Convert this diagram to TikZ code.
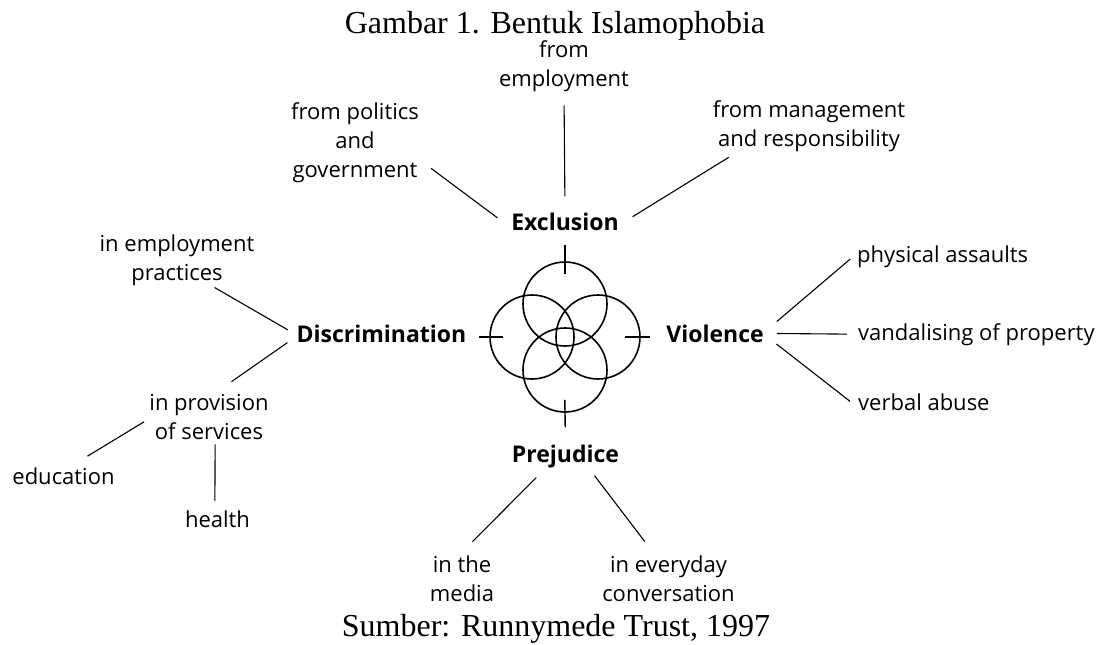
\documentclass[tikz,border=0pt]{standalone}
\usepackage{fontspec}
\setmainfont{Liberation Serif}
\newfontfamily\diagfont{Open Sans}
\usepackage{tikz}
\usetikzlibrary{positioning}

\begin{document}
\begin{tikzpicture}[x=1pt, y=-1pt,
  leaf/.style={font=\diagfont\fontsize{22}{29}\selectfont, align=center, inner sep=0pt, anchor=base},
  cat/.style={font=\diagfont\bfseries\fontsize{23}{29}\selectfont, inner sep=0pt, anchor=base},
  caption/.style={font=\fontsize{32}{36}\selectfont, inner sep=0pt, anchor=base},
  ring/.style={draw, circle, line width=1.6pt, minimum size=84pt, inner sep=0pt},
  link/.style={line width=1.1pt},
  tickline/.style={line width=1.4pt}]

\useasboundingbox (0,0) rectangle (1104,645);

\node [caption] (title) at (555,33) {Gambar 1. Bentuk Islamophobia};
\node [caption] (source) at (556,636) {Sumber: Runnymede Trust, 1997};

% the four rings
\foreach \n/\x/\y in {ctop/565/304, cleft/532/337, cright/598/337, cbot/565/370}
  \node [ring] (\n) at (\x,\y) {};

% forms
\node [cat] (excl) at (565,230) {Exclusion};
\node [cat] (disc) at (381.5,342) {Discrimination};
\node [cat] (viol) at (715,342) {Violence};
\node [cat] (prej) at (565.5,462) {Prejudice};

% examples (multi-line ones sit on their last line)
\node [leaf] (femp) at (564,86) {from\\employment};
\node [leaf] (polgov) at (355,177) {from politics\\and\\government};
\node [leaf] (mgmt) at (809,146) {from management\\and responsibility};
\node [leaf] (emppr) at (177,280) {in employment\\practices};
\node [leaf] (prov) at (209,439) {in provision\\of services};
\node [leaf] (educ) at (63.5,484) {education};
\node [leaf] (health) at (217.5,527) {health};
\node [leaf, anchor=base west] (phys) at (857,262) {physical assaults};
\node [leaf, anchor=base west] (vand) at (858,340) {vandalising of property};
\node [leaf, anchor=base west] (verbal) at (858,410) {verbal abuse};
\node [leaf] (media) at (462,601) {in the\\media};
\node [leaf] (conv) at (668.5,601) {in everyday\\conversation};

% ticks into the rings
\draw [tickline, shorten <=15pt, shorten >=-13pt] (excl.south) -- (ctop.north);
\draw [tickline, shorten <=12pt, shorten >=-14pt] (disc.east |- cleft.west) -- (cleft.west);
\draw [tickline, shorten <=16pt, shorten >=-16pt] (viol.west |- cright.east) -- (cright.east);
\draw [tickline, shorten <=17pt, shorten >=-13pt] (prej.north) -- (cbot.south);

% connectors
\draw [link, shorten <=14pt, shorten >=16pt] (femp.south) -- (excl.north);
\draw [link, shorten <=15pt, shorten >=17pt] (polgov.-15) -- (excl.187);
\draw [link, shorten <=11pt, shorten >=16pt] (mgmt.200) -- (excl.-4);
\draw [link, shorten <=4pt, shorten >=10pt] (emppr.-37) -- (disc.181);
\draw [link, shorten <=11pt, shorten >=21pt] (disc.182) -- (prov.77);
\draw [link, shorten <=6pt, shorten >=21pt] (prov.182) -- (educ.55);
\draw [link, shorten <=5pt, shorten >=9pt] (prov.-75) -- (health.107);
\draw [link, shorten <=17pt, shorten >=9pt] (viol.1.5) -- (phys.178);
\draw [link, shorten <=13pt, shorten >=11pt] (viol.east) -- (vand.west);
\draw [link, shorten <=16pt, shorten >=10pt] (viol.-1) -- (verbal.185);
\draw [link, shorten <=14pt, shorten >=19pt] (prej.211) -- (media.97);
\draw [link, shorten <=10pt, shorten >=17pt] (prej.-27) -- (conv.120);

\end{tikzpicture}
\end{document}
